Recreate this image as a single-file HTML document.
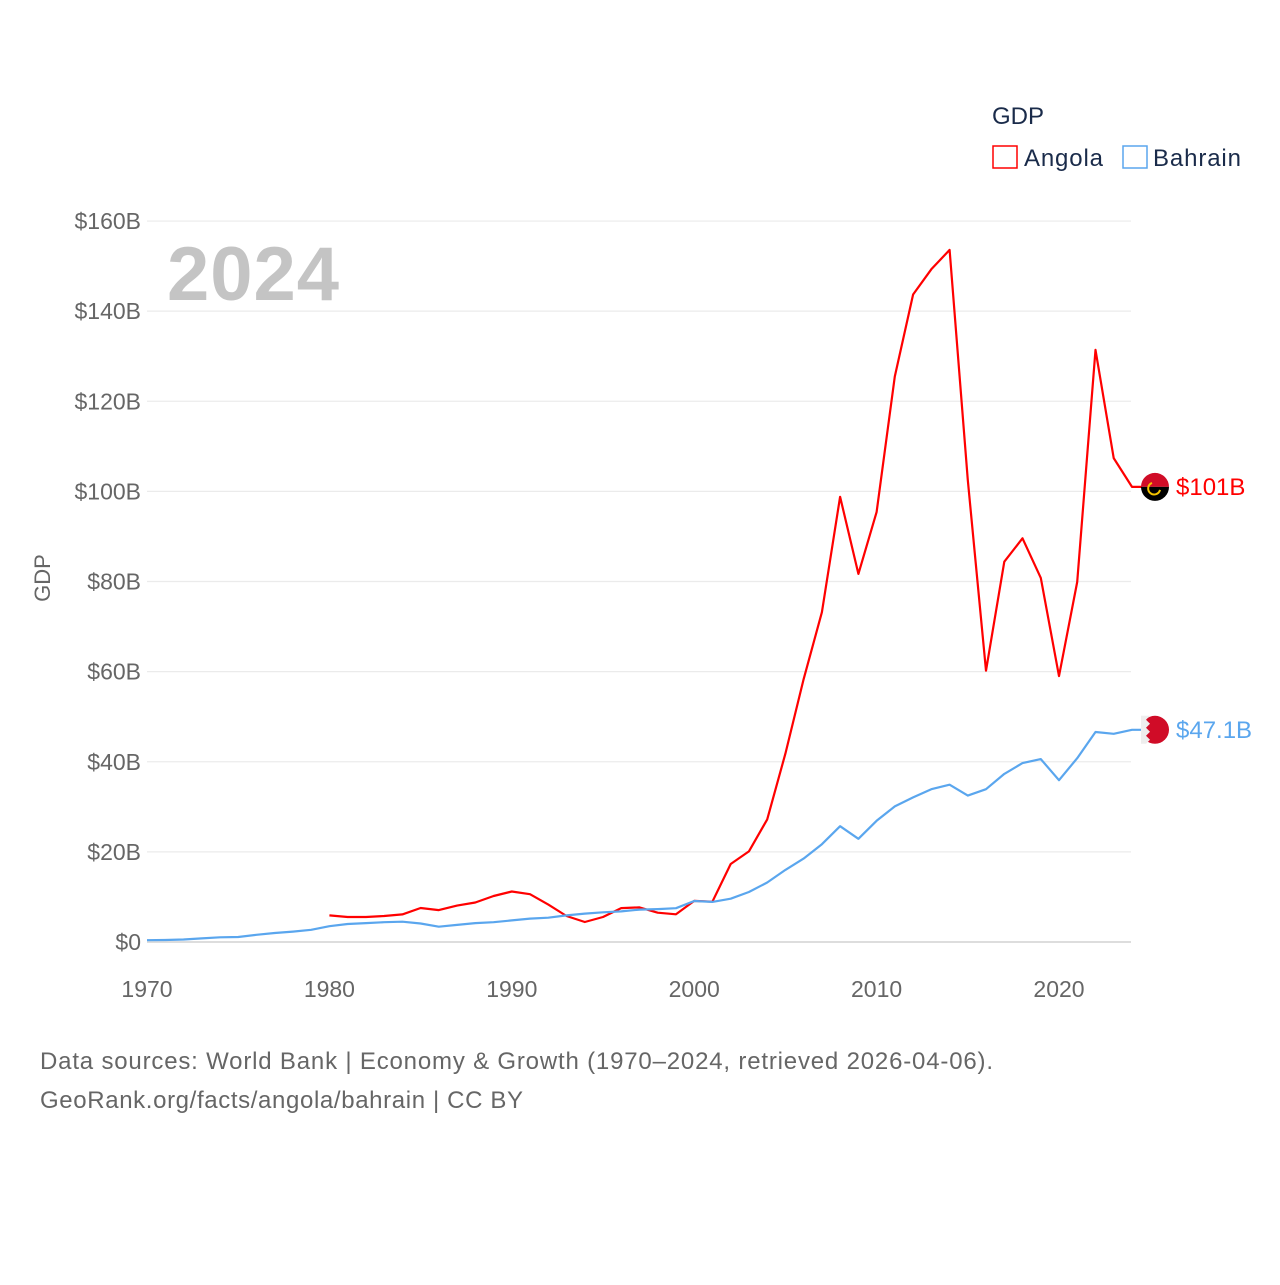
<!DOCTYPE html>
<html><head><meta charset="utf-8"><style>
body{margin:0;background:#fff;font-family:"Liberation Sans",sans-serif}
svg text{font-family:"Liberation Sans",sans-serif}
</style></head><body>
<svg id="chart" width="1280" height="1280" viewBox="0 0 1280 1280">
<g id="grid"></g><g id="yticks"></g><g id="xticks"></g>
<text x="167" y="300" font-size="76" font-weight="bold" fill="#c4c4c4" textLength="172">2024</text>
<text transform="translate(50,578) rotate(-90)" text-anchor="middle" font-size="22" fill="#666">GDP</text>
<g id="series"></g>
<g>
<text x="992" y="124" font-size="24" fill="#1a2b4a">GDP</text>
<g><rect x="993" y="146" width="24" height="22" fill="none" stroke="#ff0000" stroke-width="1.5"/><text x="1024" y="166" font-size="24" fill="#1a2b4a" textLength="79">Angola</text></g>
<g><rect x="1123" y="146" width="24" height="22" fill="none" stroke="#5aa6ee" stroke-width="1.5"/><text x="1153" y="166" font-size="24" fill="#1a2b4a" textLength="88">Bahrain</text></g>
</g>
<text x="40" y="1069" font-size="24" fill="#666" textLength="953">Data sources: World Bank | Economy &amp; Growth (1970–2024, retrieved 2026-04-06).</text>
<text x="40" y="1108" font-size="24" fill="#666" textLength="483">GeoRank.org/facts/angola/bahrain | CC BY</text>
</svg>
<script>
const years=[];for(let y=1970;y<=2024;y++)years.push(y);
const angola=[null,null,null,null,null,null,null,null,null,null,5.9,5.55,5.55,5.78,6.13,7.55,7.07,8.08,8.77,10.2,11.2,10.6,8.3,5.77,4.44,5.54,7.53,7.67,6.51,6.15,9.13,8.94,17.3,20.1,27.2,41.8,58.3,73.2,98.8,81.7,95.4,125.5,143.7,149.3,153.6,102.5,60.2,84.4,89.6,80.8,59.0,79.9,131.4,107.4,101.0];
const bahrain=[0.4,0.45,0.55,0.8,1.05,1.1,1.6,2.0,2.3,2.7,3.5,4.0,4.2,4.4,4.5,4.1,3.4,3.8,4.2,4.4,4.8,5.2,5.4,5.9,6.3,6.6,6.8,7.2,7.3,7.5,9.1,8.9,9.6,11.1,13.2,16.0,18.5,21.7,25.7,22.9,26.9,30.1,32.1,33.9,34.9,32.5,33.9,37.3,39.7,40.6,35.9,40.8,46.6,46.2,47.1];
const yTicks=[0,20,40,60,80,100,120,140,160];
const yTickLabels=["$0","$20B","$40B","$60B","$80B","$100B","$120B","$140B","$160B"];
const xTicks=[1970,1980,1990,2000,2010,2020];
const endLabels=["$101B","$47.1B"];
const NS="http://www.w3.org/2000/svg";
const X=y=>147+(y-1970)*18.24, Y=v=>942-v*4.506;
function mk(t,a,p){const e=document.createElementNS(NS,t);for(const k in a)e.setAttribute(k,a[k]);p.appendChild(e);return e;}
const grid=document.getElementById('grid'),yt=document.getElementById('yticks'),xt=document.getElementById('xticks'),sr=document.getElementById('series');
yTicks.forEach((v,i)=>{
 const l=mk('line',{x1:147,x2:1131,y1:Y(v),y2:Y(v),stroke:v===0?'#ddd':'#ebebeb','stroke-width':v===0?2:1.2},grid);
 
 
 const t=mk('text',{x:141,y:Y(v)+8,'text-anchor':'end','font-size':23,fill:'#666'},yt);t.textContent=yTickLabels[i];
 
 
});
xTicks.forEach(v=>{const t=mk('text',{x:X(v),y:997,'text-anchor':'middle','font-size':23,fill:'#666'},xt);t.textContent=v;
 
 });
function line(data,color,name){
 let d='';data.forEach((v,i)=>{if(v==null)return;d+=(d?'L':'M')+X(years[i]).toFixed(1)+','+Y(v).toFixed(1);});
 const last=data[data.length-1];d+='L1142,'+Y(last).toFixed(1);
 const p=mk('path',{d:d,fill:'none',stroke:color,'stroke-width':2.2,'stroke-linejoin':'round'},sr);
 
 
 return Y(last);
}
const ya=line(angola,'#ff0000','angola'), yb=line(bahrain,'#5aa6ee','bahrain');
const fa=mk('g',{},sr);


mk('path',{d:`M1141,${ya} a14,14 0 0 1 28,0z`,fill:'#d00c27'},fa);
mk('path',{d:`M1141,${ya} a14,14 0 0 0 28,0z`,fill:'#000'},fa);
mk('path',{d:`M1152,${ya-4} a6,6 0 1 0 8,7`,fill:'none',stroke:'#f5c400','stroke-width':2},fa);
const fb=mk('g',{},sr);


mk('circle',{cx:1155,cy:yb,r:14,fill:'#d00c27'},fb);
mk('path',{d:`M1141,${yb-14} L1150,${yb-14} L1146,${yb-10} L1150,${yb-6} L1146,${yb-2} L1150,${yb+2} L1146,${yb+6} L1150,${yb+10} L1146,${yb+14} L1141,${yb+14}z`,fill:'#eee'},fb);
const la=mk('text',{x:1176,y:ya+8,'font-size':24,fill:'#ff0000'},sr);la.textContent=endLabels[0];


const lb=mk('text',{x:1176,y:yb+8,'font-size':24,fill:'#5aa6ee'},sr);lb.textContent=endLabels[1];


</script>
</body></html>
